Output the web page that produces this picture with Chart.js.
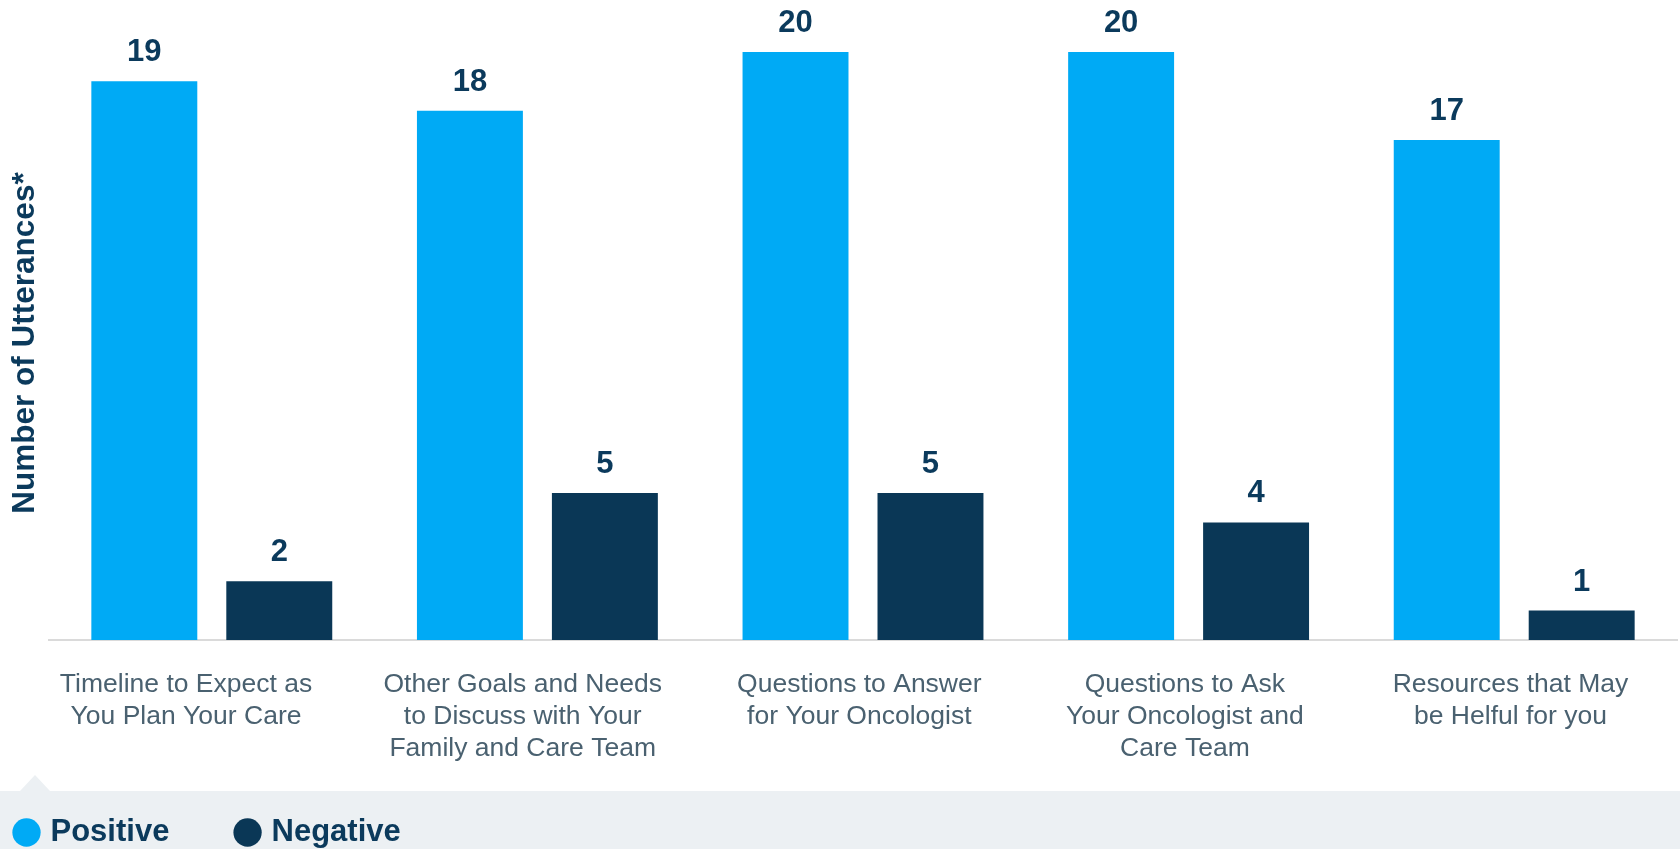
<!DOCTYPE html>
<html><head><meta charset="utf-8">
<script src="https://cdn.jsdelivr.net/npm/chart.js@4/dist/chart.umd.min.js"></script>
<style>
html,body{margin:0;padding:0;overflow:hidden;background:#fff;width:1680px;height:849px}
#wrap{position:relative;width:1680px;height:858px}
canvas{display:block}
</style>
</head><body><div id="wrap"><canvas id="c" width="1680" height="858"></canvas></div>
<script>
const categories = [
  ["Timeline to Expect as", "You Plan Your Care"],
  ["Other Goals and Needs", "to Discuss with Your", "Family and Care Team"],
  ["Questions to Answer", "for Your Oncologist"],
  ["Questions to Ask", "Your Oncologist and", "Care Team"],
  ["Resources that May", "be Helful for you"]
];
const positiveValues = [19, 18, 20, 20, 17];
const negativeValues = [2, 5, 5, 4, 1];
const seriesNames = ["Positive", "Negative"];
const yAxisTitle = "Number of Utterances*";

const FONT = '"Liberation Sans", Arial, Helvetica, sans-serif';
const NAVY = '#0B3A5C';
// layout only: trailing spaces nudge each centred category label leftwards
const labelNudge = [7, 4, 1, 1, 1];

const bandPlugin = {
  id: 'band',
  beforeDraw(chart) {
    const ctx = chart.ctx;
    const top = chart.legend.top - 8;
    ctx.save();
    ctx.fillStyle = '#ECF0F3';
    ctx.fillRect(0, top, chart.width, chart.height - top);
    ctx.beginPath();
    ctx.moveTo(20, top);
    ctx.lineTo(35, top - 16);
    ctx.lineTo(50, top);
    ctx.closePath();
    ctx.fill();
    ctx.restore();
  }
};

const valueLabelPlugin = {
  id: 'valueLabels',
  afterDatasetsDraw(chart) {
    const ctx = chart.ctx;
    ctx.save();
    ctx.font = 'bold 31px ' + FONT;
    ctx.fillStyle = NAVY;
    ctx.textAlign = 'center';
    ctx.textBaseline = 'alphabetic';
    chart.data.datasets.forEach((ds, di) => {
      const meta = chart.getDatasetMeta(di);
      meta.data.forEach((bar, i) => {
        ctx.fillText(String(ds.data[i]), bar.x, bar.y - 20);
      });
    });
    ctx.restore();
  }
};

new Chart(document.getElementById('c'), {
  type: 'bar',
  data: {
    labels: categories,
    datasets: [
      { label: seriesNames[0], data: positiveValues, backgroundColor: '#00AAF5', borderWidth: 0 },
      { label: seriesNames[1], data: negativeValues, backgroundColor: '#0A3756', borderWidth: 0 }
    ]
  },
  options: {
    responsive: false,
    animation: false,
    devicePixelRatio: 1,
    categoryPercentage: 0.829,
    barPercentage: 0.785,
    layout: { padding: { top: 46, right: 3, left: 0, bottom: 0 } },
    plugins: {
      tooltip: { enabled: false },
      legend: {
        position: 'bottom',
        align: 'start',
        labels: {
          usePointStyle: true,
          pointStyle: 'circle',
          boxWidth: 17,
          boxHeight: 20,
          padding: 18,
          color: NAVY,
          font: { family: FONT, size: 31, weight: 'bold' },
          generateLabels(chart) {
            const items = Chart.defaults.plugins.legend.labels.generateLabels(chart);
            items.forEach((it, i) => {
              if (i === 0) it.text = it.text + '      ';
              it.lineWidth = 0;
            });
            return items;
          }
        }
      }
    },
    scales: {
      x: {
        grid: { display: false, drawTicks: false },
        border: { display: true, color: '#DADADA', width: 2 },
        ticks: {
          padding: 29,
          color: '#4A6170',
          font: { family: FONT, size: 26.5, lineHeight: 1.21 },
          maxRotation: 0,
          autoSkip: false,
          callback(value, index) {
            const pad = ' '.repeat(labelNudge[index] || 0);
            return categories[index].map(line => line + pad);
          }
        },
        afterFit(scale) { scale.height = 159; }
      },
      y: {
        min: 0,
        max: 20.2,
        grid: { display: false, drawTicks: false },
        border: { display: false },
        ticks: { display: false },
        title: {
          display: true,
          text: yAxisTitle,
          color: NAVY,
          font: { family: FONT, size: 31.5, weight: 'bold', lineHeight: 1.2 },
          padding: { top: 6, bottom: 4 }
        },
        afterFit(scale) { scale.width = 49; }
      }
    }
  },
  plugins: [bandPlugin, valueLabelPlugin]
});
</script>
</body></html>
